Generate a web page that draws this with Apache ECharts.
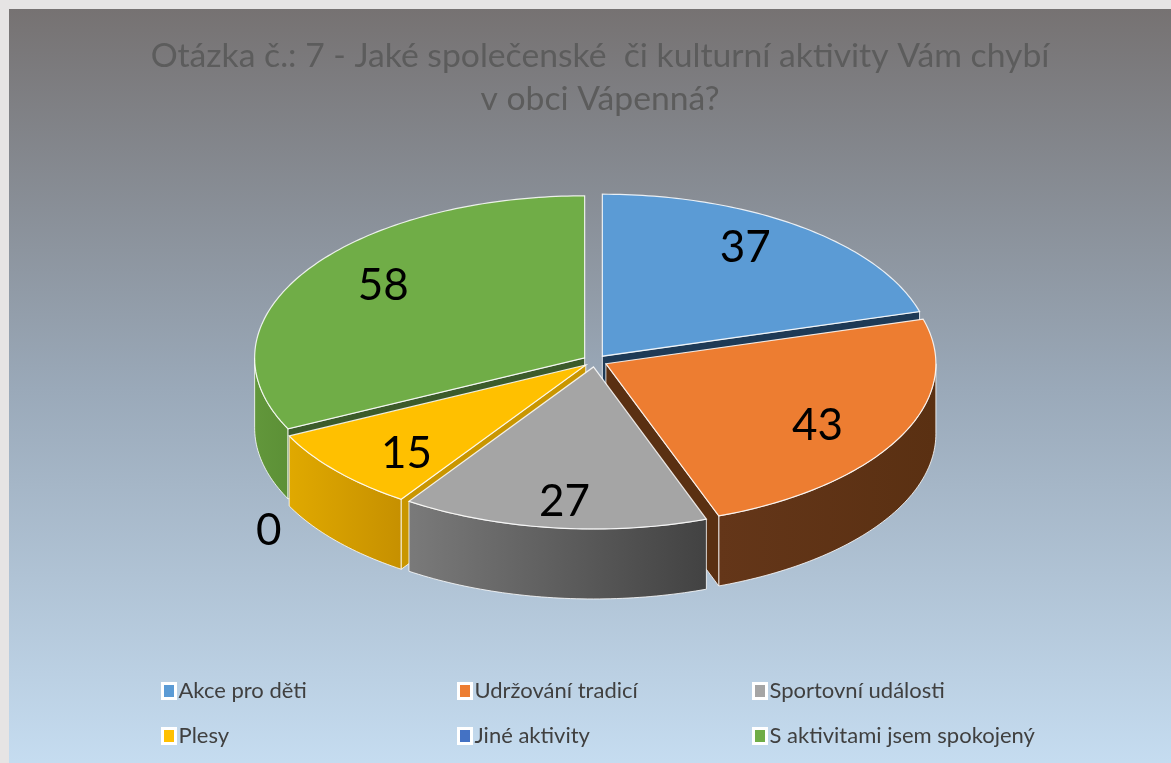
<!DOCTYPE html>
<html>
<head>
<meta charset="utf-8">
<script src="https://cdn.jsdelivr.net/npm/echarts@6/dist/echarts.min.js"></script>
<style>
html,body{margin:0;padding:0;background:#e6e4e4;}
#main{width:1171px;height:763px;}
</style>
</head>
<body>
<div id="main"></div>
<script>
// data
var categories=['Akce pro děti','Udržování tradicí','Sportovní události','Plesy','Jiné aktivity','S aktivitami jsem spokojený'];
var values=[37,43,27,15,0,58];
var titleText='Otázka č.: 7 - Jaké společenské  či kulturní aktivity Vám chybí\nv obci Vápenná?';

// colours (top / side wall gradient / cut face)
var colors=['#5b9bd5','#ed7d31','#a5a5a5','#ffc000','#4472c4','#70ad47'];
var wallColors=[['#2f5f8f','#2f5f8f'],['#643619','#5a3012'],['#7a7a7a','#424242'],['#e0a900','#c69000'],['#2a4a80','#2a4a80'],['#62973b','#5c9036']];
var faceColors=['#1e3a56','#5a3012','#555555','#c99600','#2a4a80','#3c5b2b'];

// pie geometry
var cx=595,cy=361,rx=330,ry=162,depth=70,explode=0.037;

var total=0;
for(var i=0;i<values.length;i++){total+=values[i];}
var starts=[],ends=[];
var acc=0;
for(var i=0;i<values.length;i++){
    starts.push(acc/total*360);
    acc+=values[i];
    ends.push(acc/total*360);
}
// draw order: slices at the back first
var order=[];
for(var i=0;i<values.length;i++){order.push(i);}
order.sort(function(a,b){
    var ma=(starts[a]+ends[a])/2,mb=(starts[b]+ends[b])/2;
    return -Math.cos(ma*Math.PI/180)+Math.cos(mb*Math.PI/180);
});
var rank={};
for(var i=0;i<order.length;i++){rank[order[i]]=i;}

function pt(x0,y0,deg,f,dz){
    var r=deg*Math.PI/180;
    return [x0+rx*f*Math.sin(r),y0-ry*f*Math.cos(r)+(dz||0)];
}
function arc(x0,y0,a,b,dz){
    var pts=[];
    var n=Math.max(2,Math.ceil(Math.abs(b-a)));
    for(var k=0;k<=n;k++){pts.push(pt(x0,y0,a+(b-a)*k/n,1,dz));}
    return pts;
}

function renderSlice(params,api){
    var idx=params.seriesIndex;
    var v=api.value(0);
    var a=starts[idx],b=ends[idx],m=(a+b)/2;
    var z=rank[idx]*10;
    var kids=[];
    if(v<=0){
        var lp=pt(cx,cy,a,1.1,depth+22);
        kids.push({type:'text',z2:200,x:lp[0],y:lp[1],
            style:{text:String(v),fill:'#000',font:'44px Lato',align:'center',verticalAlign:'middle',textAlign:'center',textVerticalAlign:'middle'}});
        return {type:'group',children:kids};
    }
    var mr=m*Math.PI/180;
    var x0=cx+explode*rx*Math.sin(mr),y0=cy-explode*ry*Math.cos(mr);
    // outer wall on the front half
    var ws=Math.max(a,90),we=Math.min(b,270);
    if(we>ws){
        var top=arc(x0,y0,ws,we,0);
        var bot=arc(x0,y0,we,ws,depth);
        kids.push({type:'polygon',z2:z+1,shape:{points:top.concat(bot)},
            style:{fill:{type:'linear',x:0,y:0,x2:1,y2:0,colorStops:[{offset:0,color:wallColors[idx][0]},{offset:1,color:wallColors[idx][1]}]},
            stroke:'rgba(255,255,255,0.8)',lineWidth:1}});
    }
    // cut faces
    if(Math.sin(a*Math.PI/180)<-0.001){
        var p=pt(x0,y0,a,1,0);
        kids.push({type:'polygon',z2:z+2,shape:{points:[[x0,y0],p,[p[0],p[1]+depth],[x0,y0+depth]]},
            style:{fill:faceColors[idx],stroke:'rgba(255,255,255,0.8)',lineWidth:1}});
    }
    if(Math.sin(b*Math.PI/180)>0.001){
        var q=pt(x0,y0,b,1,0);
        kids.push({type:'polygon',z2:z+2,shape:{points:[[x0,y0],q,[q[0],q[1]+depth],[x0,y0+depth]]},
            style:{fill:faceColors[idx],stroke:'rgba(255,255,255,0.8)',lineWidth:1}});
    }
    // top
    kids.push({type:'polygon',z2:z+5,shape:{points:[[x0,y0]].concat(arc(x0,y0,a,b,0))},
        style:{fill:colors[idx],stroke:'rgba(255,255,255,0.85)',lineWidth:1.2}});
    // label
    var lx=x0+0.72*rx*Math.sin(mr),ly=y0-0.84*ry*Math.cos(mr);
    kids.push({type:'text',z2:200,x:lx,y:ly,
        style:{text:String(v),fill:'#000',font:'44px Lato',align:'center',verticalAlign:'middle',textAlign:'center',textVerticalAlign:'middle'}});
    return {type:'group',children:kids};
}

var series=[];
for(var i=0;i<categories.length;i++){
    series.push({
        type:'custom',
        name:categories[i],
        coordinateSystem:'none',
        renderItem:renderSlice,
        itemStyle:{color:colors[i]},
        data:[[values[i]]],
        silent:true
    });
}

function legendCol(left,names){
    return {
        orient:'vertical',left:left,top:675,
        itemWidth:13,itemHeight:15,itemGap:23,
        icon:'rect',
        itemStyle:{borderColor:'#ffffff',borderWidth:3},
        textStyle:{color:'#404040',fontSize:22,fontFamily:'Lato',lineHeight:22,padding:[0,0,0,-2]},
        data:names,
        selectedMode:false
    };
}

var app=echarts.init(document.getElementById('main'));
var option={
    animation:false,
    graphic:[{
        type:'rect',z:-10,silent:true,
        shape:{x:9,y:9,width:1170,height:760},
        style:{fill:{type:'linear',x:0,y:0,x2:0,y2:1,colorStops:[
            {offset:0,color:'#767272'},
            {offset:0.5,color:'#9aa9b9'},
            {offset:1,color:'#c6ddf1'}
        ]}}
    }],
    title:{
        text:titleText,
        left:595,top:30,textAlign:'center',
        textStyle:{color:'#5c5c5c',fontSize:33.7,fontWeight:'normal',fontFamily:'Lato',lineHeight:43}
    },
    legend:[
        legendCol(156,[categories[0],categories[3]]),
        legendCol(452,[categories[1],categories[4]]),
        legendCol(747,[categories[2],categories[5]])
    ],
    series:series
};
app.setOption(option);
</script>
</body>
</html>
